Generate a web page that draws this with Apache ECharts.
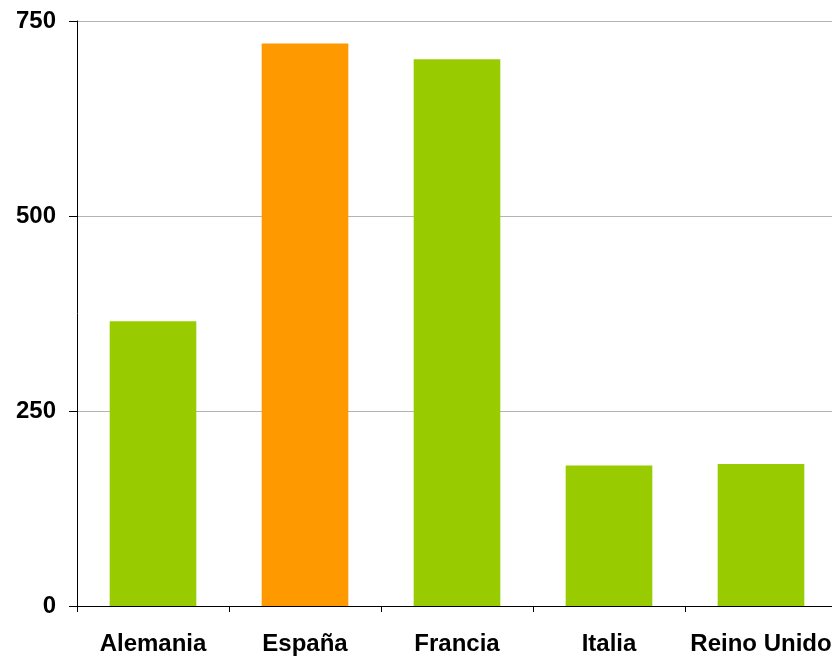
<!DOCTYPE html>
<html>
<head>
<meta charset="utf-8">
<script src="https://cdn.jsdelivr.net/npm/echarts@6/dist/echarts.min.js"></script>
<style>html,body{margin:0;padding:0;background:#fff;overflow:hidden;width:832px;height:656px;}#c{width:837px;height:656px;}</style>
</head>
<body>
<div id="c"></div>
<script>
const categories = ["Alemania", "España", "Francia", "Italia", "Reino Unido"];
const values = [365, 721, 701, 180, 182];
const barColors = ["#99CC00", "#FF9900", "#99CC00", "#99CC00", "#99CC00"];
const yTicks = [0, 250, 500, 750];

const chart = echarts.init(document.getElementById('c'), null, {renderer: 'canvas'});
chart.setOption({
  animation: false,
  backgroundColor: '#ffffff',
  grid: {left: 77, right: 0, top: 21, bottom: 49, containLabel: false},
  xAxis: {
    type: 'category',
    data: categories,
    boundaryGap: true,
    axisLine: {show: true, lineStyle: {color: '#000', width: 1}},
    axisTick: {show: true, length: 6, lineStyle: {color: '#000'}},
    axisLabel: {color: '#000', fontFamily: 'Liberation Sans, Arial, sans-serif', fontWeight: 'bold', fontSize: 24, margin: 26, interval: 0},
    splitLine: {show: false}
  },
  yAxis: {
    type: 'value',
    min: yTicks[0],
    max: yTicks[yTicks.length - 1],
    interval: 250,
    axisLine: {show: true, lineStyle: {color: '#000', width: 1}},
    axisTick: {show: true, length: 8, lineStyle: {color: '#000'}},
    axisLabel: {color: '#000', fontFamily: 'Liberation Sans, Arial, sans-serif', fontWeight: 'bold', fontSize: 24, margin: 21},
    splitLine: {show: true, lineStyle: {color: '#b4b4b4', width: 1}}
  },
  series: [{
    type: 'bar',
    data: values.map((v, i) => ({value: v, itemStyle: {color: barColors[i]}})),
    barWidth: '57%'
  }]
});
</script>
</body>
</html>
